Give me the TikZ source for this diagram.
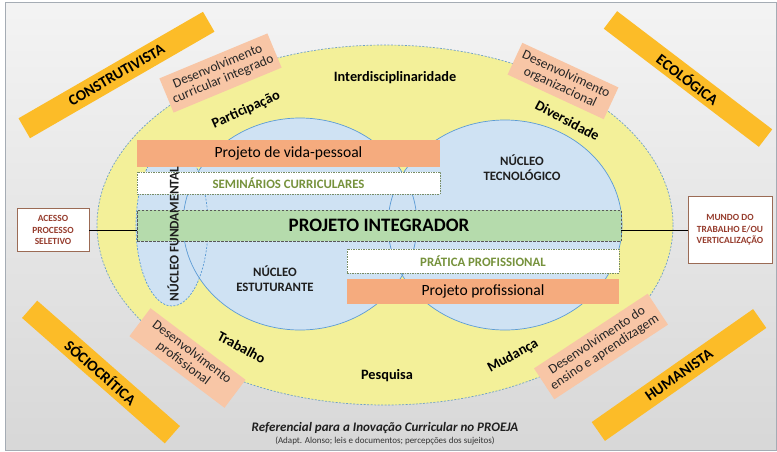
\documentclass[tikz,border=0pt]{standalone}
\usepackage{fontspec}
\setmainfont{Carlito}
\definecolor{ringyellow}{RGB}{243,240,153}
\definecolor{nucblue}{RGB}{207,226,243}
\definecolor{nucline}{RGB}{91,155,213}
\definecolor{ringline}{RGB}{110,160,200}
\definecolor{projorange}{RGB}{245,171,126}
\definecolor{salmonc}{RGB}{248,198,166}
\definecolor{barc}{RGB}{252,188,40}
\definecolor{greenbox}{RGB}{181,219,172}
\definecolor{greentext}{RGB}{118,146,60}
\definecolor{greenline}{RGB}{120,140,100}
\definecolor{brownt}{RGB}{150,60,45}
\definecolor{brownline}{RGB}{155,107,85}
\definecolor{frame}{RGB}{165,172,180}
\begin{document}
\begin{tikzpicture}[x=1pt,y=-1pt,
  bar/.style={fill=barc, minimum height=23, inner sep=0, font=\bfseries\fontsize{15.2}{16}\selectfont},
  salm/.style={fill=salmonc, align=center, inner sep=0, minimum height=36, text=black!85,
     font=\fontsize{13.5}{14}\selectfont},
  ringlbl/.style={font=\bfseries\fontsize{14.3}{15}\selectfont, inner sep=0},
  projbox/.style={fill=projorange, inner sep=0, font=\fontsize{15.6}{16}\selectfont},
  dashbox/.style={fill=white, draw=greenline, dash pattern=on 2pt off 1.2pt on 0.6pt off 1.2pt, inner sep=0,
     text=greentext, font=\bfseries\fontsize{12.8}{13}\selectfont},
  nuc/.style={align=center, inner sep=0, font=\bfseries\fontsize{12.8}{15.3}\selectfont, text=black!88},
  endbox/.style={fill=white, draw=brownline, line width=0.8pt, align=center, inner sep=0, text=brownt,
     font=\bfseries\fontsize{9.4}{11.5}\selectfont}
]
\useasboundingbox (0,0) rectangle (777,451);
\fill[white] (0,0) rectangle (777,451);
\shade[top color=gray!9, bottom color=gray!31] (5,2) rectangle (776,450);
\draw[frame, line width=0.8pt] (5,2) rectangle (776,450);

% outer ring
\draw[ringline, fill=ringyellow, dash pattern=on 2pt off 1.5pt, line width=0.7pt]
  (385,225) ellipse [x radius=288, y radius=180];

% nuclei fills
\fill[nucblue] (300,224) ellipse [x radius=117, y radius=106];
\fill[nucblue] (505,225) ellipse [x radius=117, y radius=105];
\fill[nucblue] (172,226) ellipse [x radius=36, y radius=80];
\draw[nucline, line width=0.7pt] (300,224) ellipse [x radius=117, y radius=106];
\draw[nucline, line width=0.7pt] (505,225) ellipse [x radius=117, y radius=105];
\draw[nucline, line width=0.7pt, dash pattern=on 2pt off 1.5pt] (172,226) ellipse [x radius=36, y radius=80];

% end boxes and line
\node[endbox, minimum width=72, minimum height=43] (acesso) at (53,230) {ACESSO\\PROCESSO\\SELETIVO};
\node[endbox, minimum width=84, minimum height=67] (mundo) at (730,230) {MUNDO DO\\TRABALHO E/OU\\VERTICALIZAÇÃO};
\draw[black, line width=0.8pt] (acesso) -- (mundo);

% horizontal bands
\node[projbox, minimum width=303, minimum height=27] (vida) at (288.5,153.5) {Projeto de vida-pessoal};
\node[dashbox, minimum width=303, minimum height=22] (sem) at (288.5,183) {SEMINÁRIOS CURRICULARES};
\node[fill=greenbox, draw=black!65, dash pattern=on 2.5pt off 1.5pt, line width=0.8pt, inner sep=0,
      minimum width=484, minimum height=31, font=\bfseries\fontsize{19}{20}\selectfont] (integ) at (379,225.5) {PROJETO INTEGRADOR};
\node[dashbox, minimum width=272, minimum height=24] (prat) at (483,261) {PRÁTICA PROFISSIONAL};
\node[projbox, minimum width=272, minimum height=25] (prof) at (483,291.5) {Projeto profissional};

% nucleus labels
\node[nuc] (ntec) at (522,168) {NÚCLEO\\TECNOLÓGICO};
\node[nuc] (nest) at (275,279) {NÚCLEO\\ESTUTURANTE};
\node[nuc, rotate=90, font=\bfseries\fontsize{13.3}{14}\selectfont] (nfun) at (173,234) {NÚCLEO FUNDAMENTAL};

% ring labels
\node[ringlbl] (l1) at (395,78) {Interdisciplinaridade};
\node[ringlbl, rotate=24] (l2) at (246,110) {Participação};
\node[ringlbl, rotate=-28] (l3) at (567.5,120.5) {Diversidade};
\node[ringlbl, rotate=-28] (l4) at (241.5,347.5) {Trabalho};
\node[ringlbl] (l5) at (387,376) {Pesquisa};
\node[ringlbl, rotate=29] (l6) at (513,356) {Mudança};

% salmon boxes
\node[salm, minimum width=117, minimum height=37, rotate=22.6] (dci) at (220.5,73) {Desenvolvimento\\curricular integrado};
\node[salm, minimum width=106, minimum height=35, rotate=-24.9] (dorg) at (563,81) {Desenvolvimento\\organizacional};
\node[salm, minimum width=119, minimum height=35, rotate=-37] (dprof) at (187.5,358) {Desenvolvimento\\profissional};
\node[salm, minimum width=136, minimum height=37, rotate=33.3] (dens) at (601,346.5) {Desenvolvimento do\\ensino e aprendizagem};

% paradigm bars
\node[bar, minimum width=213, rotate=30] (constr) at (116.5,75) {CONSTRUTIVISTA};
\node[bar, minimum width=195, minimum height=22, rotate=-37.3] (ecol) at (688,79) {ECOLÓGICA};
\node[bar, minimum width=190, rotate=-41.3] (socio) at (101,372) {SÓCIOCRÍTICA};
\node[bar, minimum width=197, rotate=35] (human) at (679,375) {HUMANISTA};

% caption
\node[inner sep=0, text=black!88, font=\bfseries\itshape\fontsize{13}{14}\selectfont] (cap) at (385,428)
  {Referencial para a Inovação Curricular no PROEJA};
\node[inner sep=0, text=black!80, font=\fontsize{9}{10}\selectfont] (sub) at (385,441)
  {(Adapt. Alonso; leis e documentos; percepções dos sujeitos)};
\end{tikzpicture}
\end{document}
